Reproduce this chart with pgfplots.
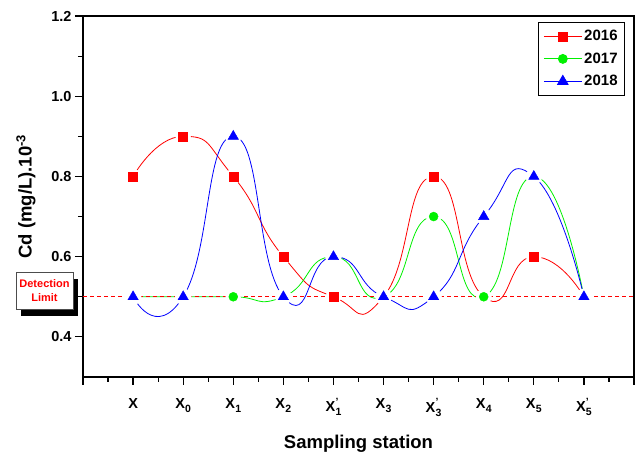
\documentclass[border=0pt]{standalone}
\usepackage{fontspec}
\setmainfont{Liberation Sans}
\usepackage{pgfplots}
\usepackage{pgfplotstable}
\pgfplotsset{compat=1.18}
\usetikzlibrary{calc}
\newcommand{\xs}[1]{X\kern0.3pt\raisebox{-4pt}{\fontsize{10.5}{8}\selectfont #1}}
\newcommand{\xp}[1]{X\kern0.3pt\raisebox{-4pt}{\fontsize{10.5}{9}\selectfont\shortstack[l]{'\\#1}}}
\pgfplotstableread{
x a b c
0 0.8 0.5 0.5
1 0.9 0.5 0.5
2 0.8 0.5 0.9
3 0.6 0.5 0.5
4 0.5 0.6 0.6
5 0.5 0.5 0.5
6 0.8 0.7 0.5
7 0.5 0.5 0.7
8 0.6 0.8 0.8
9 0.5 0.5 0.5
}\data
\definecolor{rr}{RGB}{255,0,0}
\definecolor{gg}{RGB}{0,240,0}
\definecolor{bb}{RGB}{0,0,255}
\begin{document}
\begin{tikzpicture}
\begin{axis}[
  width=551pt, height=361pt, scale only axis,
  xmin=-1, xmax=10, ymin=0.3, ymax=1.2,
  clip=false,
  axis line style={line width=1.2pt},
  xtick={-1,0,...,10},
  xticklabels={,X,\xs{0},\xs{1},\xs{2},\xp{1},\xs{3},\xp{3},\xs{4},\xs{5},\xp{5},},
  minor x tick num=1,
  ytick={0.4,0.6,0.8,1.0,1.2},
  minor y tick num=1,
  tick align=outside, tick pos=left,
  major tick length=8pt, minor tick length=5pt,
  every tick/.style={line width=1.2pt, black},
  tick label style={font=\bfseries\fontsize{14.5}{16}\selectfont},
  xticklabel style={yshift=-10pt},
  /pgf/number format/assume math mode=true,
  yticklabel style={/pgf/number format/fixed, /pgf/number format/precision=1, /pgf/number format/fixed zerofill},
  xlabel={\textbf{Sampling station}},
  ylabel={\textbf{Cd (mg/L).10\textsuperscript{-3}}},
  label style={font=\bfseries\fontsize{18.5}{20}\selectfont},
  xlabel style={yshift=-12pt},
  ylabel style={yshift=9pt},
  legend style={at={(0.826,0.983)}, anchor=north west, draw=black, line width=0.6pt,
    font=\bfseries\fontsize{15}{17}\selectfont, row sep=6.5pt, inner xsep=5pt, inner ysep=6pt},
  legend cell align=left,
  legend image code/.code={\draw[mark repeat=2,mark phase=2] plot coordinates {(0pt,0pt)(19pt,0pt)(38pt,0pt)};},
]
% 2016
\addplot[rr, line width=0.8pt, smooth, tension=1, mark=square*, mark size=4.5pt, mark options={solid}] table[x=x,y=a] {\data};
\addlegendentry{2016}
\addplot[white, only marks, mark=*, mark size=7.5pt, forget plot] table[x=x,y=a] {\data};
\addplot[rr, only marks, mark=square*, mark size=4.5pt, forget plot] table[x=x,y=a] {\data};
% 2017
\addplot[gg, line width=0.8pt, smooth, tension=1, mark=*, mark size=4.5pt, mark options={solid}] table[x=x,y=b] {\data};
\addlegendentry{2017}
\addplot[white, only marks, mark=*, mark size=7.5pt, forget plot] table[x=x,y=b] {\data};
\addplot[gg, only marks, mark=*, mark size=4.5pt, forget plot] table[x=x,y=b] {\data};
% 2018
\addplot[bb, line width=0.8pt, smooth, tension=1, mark=triangle*, mark size=6pt, mark options={solid}] table[x=x,y=c] {\data};
\addlegendentry{2018}
\addplot[white, only marks, mark=*, mark size=8pt, forget plot] table[x=x,y=c] {\data};
\addplot[bb, only marks, mark=triangle*, mark size=6pt, forget plot] table[x=x,y=c] {\data};
% detection limit
\addplot[rr, dash pattern=on 4pt off 3pt, line width=1.3pt, forget plot] coordinates {(-1,0.5) (10,0.5)};
\coordinate (dl) at (axis cs:-1,0.5);
\coordinate (sw) at (rel axis cs:0,0);
\coordinate (ne) at (rel axis cs:1,1);
\end{axis}
\fill[black] ($(dl)+(-61.5pt,-19pt)$) rectangle ($(dl)+(-4.5pt,18pt)$);
\fill[white] ($(dl)+(-67pt,-12.5pt)$) rectangle ($(dl)+(-10pt,24.5pt)$);
\draw[black!70, line width=0.6pt] ($(dl)+(-67pt,-12.5pt)$) rectangle ($(dl)+(-10pt,24.5pt)$);
\node[text=red, align=center, font=\bfseries\fontsize{11}{14}\selectfont, inner sep=0pt]
  at ($(dl)+(-38.5pt,6pt)$) {Detection\\Limit};
\pgfresetboundingbox
\path[use as bounding box] ($(sw)+(-83pt,-75pt)$) rectangle ($(ne)+(6pt,16pt)$);
\end{tikzpicture}
\end{document}
